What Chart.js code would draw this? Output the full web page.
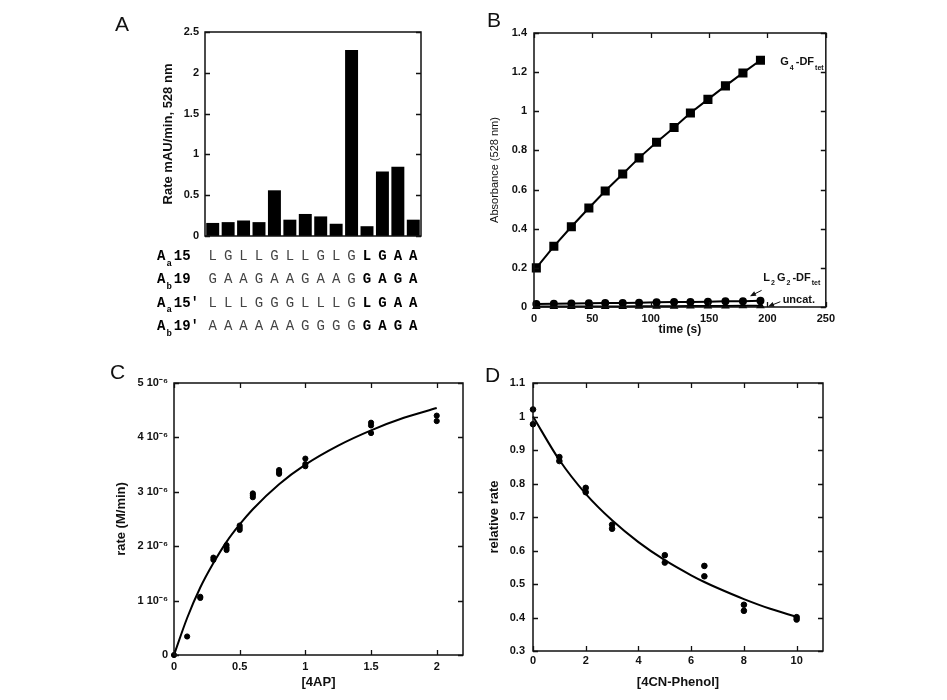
<!DOCTYPE html>
<html>
<head>
<meta charset="utf-8">
<script src="https://cdn.jsdelivr.net/npm/chart.js@4.4.1/dist/chart.umd.min.js"></script>
<style>
body { margin: 0; background: #fff; }
#page { position: relative; width: 947px; height: 700px; overflow: hidden; background: #fff; }
canvas { position: absolute; }
.tag { position: absolute; font: 21px "Liberation Sans", Arial, sans-serif; line-height: 1; color: #111; }
</style>
</head>
<body>
<div id="page">
  <canvas id="chartA" width="340" height="340" style="left:100px;top:0px"></canvas>
  <canvas id="chartB" width="370" height="340" style="left:470px;top:0px"></canvas>
  <canvas id="chartC" width="380" height="340" style="left:100px;top:360px"></canvas>
  <canvas id="chartD" width="360" height="340" style="left:480px;top:360px"></canvas>
  <div class="tag" style="left:115px;top:13px">A</div>
  <div class="tag" style="left:487px;top:9px">B</div>
  <div class="tag" style="left:110px;top:361px">C</div>
  <div class="tag" style="left:485px;top:364px">D</div>
</div>
<script>
// panel A: rates per construct
const rateA = [0.16, 0.17, 0.19, 0.17, 0.56, 0.20, 0.27, 0.24, 0.15, 2.28, 0.12, 0.79, 0.85, 0.20];
const rateTicksA = [0, 0.5, 1, 1.5, 2, 2.5];
const seqNames = [['15', 'a'], ['19', 'b'], ["15'", 'a'], ["19'", 'b']];
const seqRows = [
    ['L','G','L','L','G','L','L','G','L','G','L','G','A','A'],
    ['G','A','A','G','A','A','G','A','A','G','G','A','G','A'],
    ['L','L','L','G','G','G','L','L','L','G','L','G','A','A'],
    ['A','A','A','A','A','A','G','G','G','G','G','A','G','A']
];
const boldFrom = 10;

// panel B: absorbance traces
const timeS = [2, 17, 32, 47, 61, 76, 90, 105, 120, 134, 149, 164, 179, 194];
const g4Abs = [0.200, 0.310, 0.410, 0.506, 0.593, 0.680, 0.762, 0.842, 0.917, 0.991, 1.061, 1.130, 1.196, 1.261];
const l2g2Abs = [0.015, 0.016, 0.018, 0.019, 0.020, 0.021, 0.022, 0.024, 0.025, 0.026, 0.027, 0.029, 0.030, 0.032];
const uncatAbs = [0.002, 0.002, 0.003, 0.003, 0.003, 0.003, 0.004, 0.004, 0.004, 0.005, 0.005, 0.005, 0.006, 0.006];
const timeTicks = [0, 50, 100, 150, 200, 250];
const absTicks = [0, 0.2, 0.4, 0.6, 0.8, 1, 1.2, 1.4];

// panel C: rate vs [4AP]
const ap = [0, 0.1, 0.2, 0.2, 0.3, 0.3, 0.4, 0.4, 0.4, 0.5, 0.5, 0.5, 0.6, 0.6, 0.6, 0.8, 0.8, 0.8, 1, 1, 1, 1.5, 1.5, 1.5, 2, 2];
const apRate = [0, 0.34e-6, 1.07e-6, 1.05e-6, 1.79e-6, 1.75e-6, 2.02e-6, 1.97e-6, 1.93e-6, 2.38e-6, 2.34e-6, 2.30e-6,
    2.97e-6, 2.94e-6, 2.90e-6, 3.40e-6, 3.36e-6, 3.33e-6, 3.61e-6, 3.51e-6, 3.47e-6, 4.27e-6, 4.22e-6, 4.08e-6, 4.40e-6, 4.30e-6];
const apFitX = [0, 0.1, 0.2, 0.3, 0.4, 0.5, 0.6, 0.8, 1, 1.25, 1.5, 1.75, 2];
const apFitY = [0, 0.68e-6, 1.24e-6, 1.69e-6, 2.08e-6, 2.40e-6, 2.68e-6, 3.14e-6, 3.50e-6, 3.85e-6, 4.13e-6, 4.36e-6, 4.54e-6];
const apTicks = [0, 0.5, 1, 1.5, 2];
const apRateTicks = [0, 1e-6, 2e-6, 3e-6, 4e-6, 5e-6];

// panel D: relative rate vs [4CN-Phenol]
const phenol = [0, 0, 1, 1, 2, 2, 3, 3, 5, 5, 6.5, 6.5, 8, 8, 10, 10];
const relRate = [1.021, 0.977, 0.879, 0.867, 0.787, 0.774, 0.677, 0.665, 0.586, 0.564, 0.554, 0.523, 0.438, 0.420, 0.401, 0.394];
const phenolFitX = [0, 1, 2, 3, 4, 5, 6, 6.5, 7, 8, 9, 10];
const phenolFitY = [1, 0.870, 0.769, 0.690, 0.625, 0.571, 0.526, 0.506, 0.488, 0.455, 0.426, 0.402];
const phenolTicks = [0, 2, 4, 6, 8, 10];
const relTicks = [0.3, 0.4, 0.5, 0.6, 0.7, 0.8, 0.9, 1, 1.1];

const FONT = '"Liberation Sans", Arial, sans-serif';
const MONO = '"Liberation Mono", "Courier New", monospace';
Chart.defaults.font.family = FONT;
Chart.defaults.color = '#111';
const tickFont = { size: 11, weight: 'bold' };

function pts(xs, ys) {
    return xs.map((x, i) => ({ x: x, y: ys[i] }));
}

function axis(o) {
    const a = {
        type: o.type || 'linear',
        grid: { display: false, drawTicks: false },
        border: { display: false },
        ticks: { display: o.showTicks !== false, padding: o.pad, font: tickFont, color: '#111', maxRotation: 0, autoSkip: false,
                 callback: o.callback || (v => String(v)) },
        title: { display: false },
        afterFit: s => { if (s.isHorizontal()) s.height = o.size; else s.width = o.size; }
    };
    if (o.min !== undefined) { a.min = o.min; a.max = o.max; }
    if (o.ticks) a.afterBuildTicks = s => { s.ticks = o.ticks.map(v => ({ value: v })); };
    if (o.title) a.title = { display: true, text: o.title, font: o.titleFont, color: '#111', padding: o.titlePad };
    return a;
}

// box round the plot with inward tick marks
const framePlugin = {
    id: 'frame',
    afterDatasetsDraw(chart, args, opts) {
        const { ctx, chartArea: a, scales } = chart;
        ctx.save();
        ctx.strokeStyle = '#111';
        ctx.lineWidth = 1.5;
        ctx.strokeRect(a.left, a.top, a.right - a.left, a.bottom - a.top);
        ctx.lineWidth = 1.3;
        ctx.beginPath();
        scales.y.ticks.forEach(t => {
            const y = Math.round(scales.y.getPixelForValue(t.value)) + 0.5;
            ctx.moveTo(a.left, y); ctx.lineTo(a.left + 5, y);
            ctx.moveTo(a.right, y); ctx.lineTo(a.right - 5, y);
        });
        if (!opts.noX) {
            scales.x.ticks.forEach(t => {
                const x = Math.round(scales.x.getPixelForValue(t.value)) + 0.5;
                ctx.moveTo(x, a.bottom); ctx.lineTo(x, a.bottom - 5);
                ctx.moveTo(x, a.top); ctx.lineTo(x, a.top + 5);
            });
        }
        ctx.stroke();
        ctx.restore();
    }
};

function drawParts(ctx, x, y, parts, size, weight, family) {
    parts.forEach(([t, sub]) => {
        const s = sub ? Math.round(size * 0.62) : size;
        ctx.font = weight + ' ' + s + 'px ' + family;
        ctx.fillText(t, x, y + (sub ? size * 0.4 : 0));
        x += ctx.measureText(t).width + (sub ? 2 : 1);
    });
}

// sequence table under the bars of panel A
const seqPlugin = {
    id: 'seq',
    afterDraw(chart) {
        const { ctx, chartArea } = chart;
        const xs = chart.scales.x;
        ctx.save();
        ctx.textBaseline = 'alphabetic';
        seqRows.forEach((row, r) => {
            const y = chartArea.bottom + 24 + r * 23.4;
            ctx.fillStyle = '#000';
            ctx.textAlign = 'left';
            drawParts(ctx, 57, y, [['A', false], [seqNames[r][1], true], [seqNames[r][0], false]], 14, 'bold', MONO);
            ctx.textAlign = 'center';
            row.forEach((ch, i) => {
                const bold = i >= boldFrom;
                ctx.font = (bold ? 'bold ' : '') + '14px ' + MONO;
                ctx.fillStyle = bold ? '#000' : '#444';
                ctx.fillText(ch, xs.getPixelForValue(i), y);
            });
        });
        ctx.restore();
    }
};

function arrow(ctx, x1, y1, x2, y2) {
    const ang = Math.atan2(y2 - y1, x2 - x1);
    ctx.beginPath();
    ctx.moveTo(x1, y1);
    ctx.lineTo(x2 - 4 * Math.cos(ang), y2 - 4 * Math.sin(ang));
    ctx.stroke();
    ctx.beginPath();
    ctx.moveTo(x2, y2);
    ctx.lineTo(x2 - 6 * Math.cos(ang) + 2.5 * Math.sin(ang), y2 - 6 * Math.sin(ang) - 2.5 * Math.cos(ang));
    ctx.lineTo(x2 - 6 * Math.cos(ang) - 2.5 * Math.sin(ang), y2 - 6 * Math.sin(ang) + 2.5 * Math.cos(ang));
    ctx.closePath();
    ctx.fill();
}

// trace labels in panel B
const notesPlugin = {
    id: 'notes',
    afterDraw(chart) {
        const { ctx } = chart;
        const x = chart.scales.x, y = chart.scales.y;
        const px = v => x.getPixelForValue(v), py = v => y.getPixelForValue(v);
        ctx.save();
        ctx.fillStyle = '#111';
        ctx.strokeStyle = '#111';
        ctx.lineWidth = 1;
        ctx.textAlign = 'left';
        drawParts(ctx, px(211), py(1.235), [['G', false], ['4', true], ['-DF', false], ['tet', true]], 11, 'bold', FONT);
        drawParts(ctx, px(196.5), py(0.133), [['L', false], ['2', true], ['G', false], ['2', true], ['-DF', false], ['tet', true]], 11, 'bold', FONT);
        drawParts(ctx, px(213), py(0.02), [['uncat.', false]], 11, 'bold', FONT);
        arrow(ctx, px(195), py(0.085), px(185), py(0.055));
        arrow(ctx, px(211), py(0.027), px(200.5), py(0.002));
        ctx.restore();
    }
};

const common = {
    responsive: false,
    animation: false,
    events: [],
    plugins: { legend: { display: false }, tooltip: { enabled: false } }
};

new Chart(document.getElementById('chartA'), {
    type: 'bar',
    data: {
        labels: rateA.map((v, i) => String(i + 1)),
        datasets: [{ data: rateA, backgroundColor: '#000', borderWidth: 0, barPercentage: 0.84, categoryPercentage: 1 }]
    },
    options: {
        ...common,
        layout: { padding: { top: 32, right: 19, left: 0, bottom: 0 } },
        plugins: { ...common.plugins, frame: { noX: true } },
        scales: {
            x: axis({ type: 'category', size: 104, showTicks: false }),
            y: axis({ min: 0, max: 2.5, ticks: rateTicksA, size: 105, pad: 6,
                title: 'Rate mAU/min, 528 nm', titleFont: { size: 13, weight: 'bold' }, titlePad: { top: 61, bottom: 0 } })
        }
    },
    plugins: [framePlugin, seqPlugin]
});

new Chart(document.getElementById('chartB'), {
    type: 'line',
    data: {
        datasets: [
            { data: pts(timeS, g4Abs), borderColor: '#000', backgroundColor: '#000', borderWidth: 2,
              pointStyle: 'rect', pointRadius: 5, clip: false },
            { data: pts(timeS, l2g2Abs), borderColor: '#000', backgroundColor: '#000', borderWidth: 2,
              pointStyle: 'circle', pointRadius: 3, clip: false },
            { data: pts(timeS, uncatAbs), borderColor: '#000', backgroundColor: '#000', borderWidth: 2,
              pointStyle: 'triangle', pointRadius: 3, clip: false }
        ]
    },
    options: {
        ...common,
        layout: { padding: { top: 33, right: 12, left: 0, bottom: 0 } },
        plugins: { ...common.plugins, frame: {} },
        scales: {
            x: axis({ min: 0, max: 250, ticks: timeTicks, size: 33, pad: 5,
                title: 'time (s)', titleFont: { size: 12, weight: 'bold' }, titlePad: { top: 0, bottom: 3 } }),
            y: axis({ min: 0, max: 1.4, ticks: absTicks, size: 64, pad: 7,
                title: 'Absorbance (528 nm)', titleFont: { size: 11, weight: 'normal' }, titlePad: { top: 18, bottom: 0 } })
        }
    },
    plugins: [framePlugin, notesPlugin]
});

new Chart(document.getElementById('chartC'), {
    type: 'line',
    data: {
        datasets: [
            { data: pts(apFitX, apFitY), borderColor: '#000', borderWidth: 2, pointRadius: 0,
              cubicInterpolationMode: 'monotone', clip: false },
            { data: pts(ap, apRate), showLine: false, backgroundColor: '#000', borderColor: '#000',
              pointRadius: 2.6, clip: false }
        ]
    },
    options: {
        ...common,
        layout: { padding: { top: 23, right: 17, left: 0, bottom: 0 } },
        plugins: { ...common.plugins, frame: {} },
        scales: {
            x: axis({ min: 0, max: 2.2, ticks: apTicks, size: 45, pad: 5,
                title: '[4AP]', titleFont: { size: 13, weight: 'bold' }, titlePad: { top: 0, bottom: 10 } }),
            y: axis({ min: 0, max: 5e-6, ticks: apRateTicks, size: 74, pad: 6,
                callback: v => v === 0 ? '0' : Math.round(v * 1e6) + ' 10\u207B\u2076',
                title: 'rate (M/min)', titleFont: { size: 13, weight: 'bold' }, titlePad: { top: 14, bottom: 0 } })
        }
    },
    plugins: [framePlugin]
});

new Chart(document.getElementById('chartD'), {
    type: 'line',
    data: {
        datasets: [
            { data: pts(phenolFitX, phenolFitY), borderColor: '#000', borderWidth: 2, pointRadius: 0,
              cubicInterpolationMode: 'monotone', clip: false },
            { data: pts(phenol, relRate), showLine: false, backgroundColor: '#000', borderColor: '#000',
              pointRadius: 2.8, clip: false }
        ]
    },
    options: {
        ...common,
        layout: { padding: { top: 23, right: 17, left: 0, bottom: 0 } },
        plugins: { ...common.plugins, frame: {} },
        scales: {
            x: axis({ min: 0, max: 11, ticks: phenolTicks, size: 49, pad: 3,
                title: '[4CN-Phenol]', titleFont: { size: 13, weight: 'bold' }, titlePad: { top: 0, bottom: 10 } }),
            y: axis({ min: 0.3, max: 1.1, ticks: relTicks, size: 53, pad: 8,
                title: 'relative rate', titleFont: { size: 13, weight: 'bold' }, titlePad: { top: 7, bottom: 0 } })
        }
    },
    plugins: [framePlugin]
});
</script>
</body>
</html>
